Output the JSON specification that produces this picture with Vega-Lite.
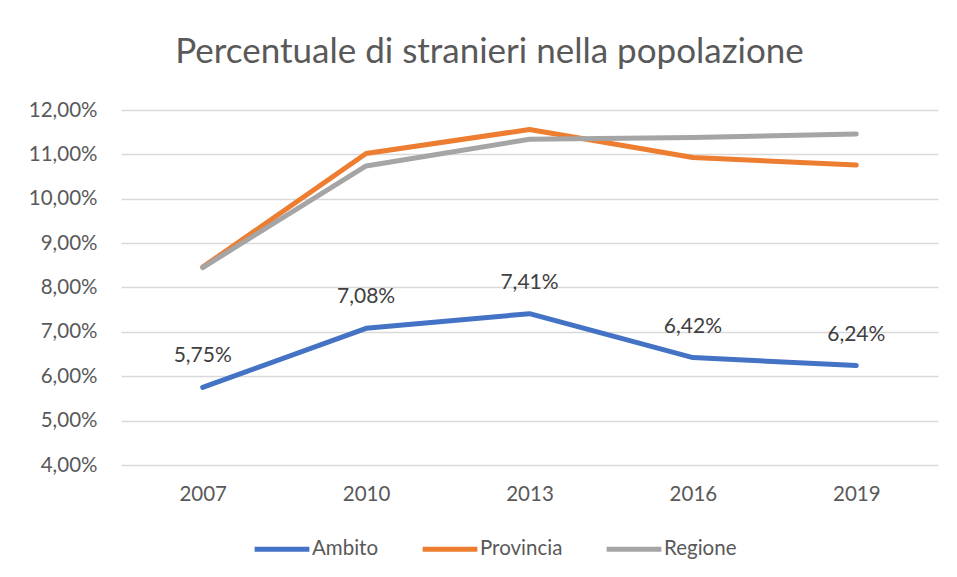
{
  "$schema": "https://vega.github.io/schema/vega-lite/v6.json",
  "width": 817,
  "height": 355,
  "autosize": {"type": "none"},
  "padding": {"left": 121, "top": 110, "right": 19, "bottom": 112},
  "background": "white",
  "title": {
    "text": "Percentuale di stranieri nella popolazione",
    "font": "Lato",
    "fontSize": 35,
    "fontWeight": "normal",
    "color": "#595959",
    "anchor": "middle",
    "dx": -40,
    "offset": 30
  },
  "data": {
    "values": [
      {"anno": "2007", "serie": "Ambito", "valore": 0.0575},
      {"anno": "2010", "serie": "Ambito", "valore": 0.0708},
      {"anno": "2013", "serie": "Ambito", "valore": 0.0741},
      {"anno": "2016", "serie": "Ambito", "valore": 0.0642},
      {"anno": "2019", "serie": "Ambito", "valore": 0.0624},
      {"anno": "2007", "serie": "Provincia", "valore": 0.0846},
      {"anno": "2010", "serie": "Provincia", "valore": 0.1102},
      {"anno": "2013", "serie": "Provincia", "valore": 0.1156},
      {"anno": "2016", "serie": "Provincia", "valore": 0.1093},
      {"anno": "2019", "serie": "Provincia", "valore": 0.1076},
      {"anno": "2007", "serie": "Regione", "valore": 0.0845},
      {"anno": "2010", "serie": "Regione", "valore": 0.1074},
      {"anno": "2013", "serie": "Regione", "valore": 0.1134},
      {"anno": "2016", "serie": "Regione", "valore": 0.1138},
      {"anno": "2019", "serie": "Regione", "valore": 0.1146}
    ]
  },
  "encoding": {
    "x": {
      "field": "anno",
      "type": "ordinal",
      "scale": {"type": "point", "padding": 0.5},
      "axis": {
        "title": null,
        "labelAngle": 0,
        "grid": false,
        "domain": false,
        "ticks": false,
        "labelPadding": 19,
        "labelFont": "Lato",
        "labelFontSize": 20.5,
        "labelColor": "#595959"
      }
    },
    "y": {
      "field": "valore",
      "type": "quantitative",
      "scale": {"domain": [0.04, 0.12], "nice": false},
      "axis": {
        "title": null,
        "values": [0.04, 0.05, 0.06, 0.07, 0.08, 0.09, 0.1, 0.11, 0.12],
        "labelExpr": "replace(format(datum.value, '.2%'), '.', ',')",
        "grid": true,
        "gridColor": "#D9D9D9",
        "gridWidth": 1.3,
        "domain": false,
        "ticks": false,
        "labelPadding": 24,
        "labelFont": "Lato",
        "labelFontSize": 20.5,
        "labelColor": "#595959"
      }
    }
  },
  "layer": [
    {
      "mark": {"type": "line", "strokeWidth": 5, "strokeCap": "round", "strokeJoin": "round"},
      "encoding": {
        "color": {
          "field": "serie",
          "type": "nominal",
          "scale": {"domain": ["Ambito", "Provincia", "Regione"], "range": ["#4472C4", "#ED7D31", "#A5A5A5"]},
          "legend": {
            "title": null,
            "orient": "none",
            "direction": "horizontal",
            "legendX": 131,
            "legendY": 409,
            "symbolType": "stroke",
            "symbolSize": 3000,
            "symbolStrokeWidth": 5,
            "labelFont": "Lato",
            "labelFontSize": 20.5,
            "labelColor": "#595959",
            "labelOffset": 0,
            "columnPadding": 33
          }
        }
      }
    },
    {
      "transform": [
        {"filter": "datum.serie === 'Ambito'"},
        {"calculate": "replace(format(datum.valore, '.2%'), '.', ',')", "as": "etichetta"}
      ],
      "mark": {"type": "text", "dy": -31, "font": "Lato", "fontSize": 21, "color": "#404040"},
      "encoding": {"text": {"field": "etichetta"}}
    }
  ],
  "config": {"view": {"stroke": null}}
}
